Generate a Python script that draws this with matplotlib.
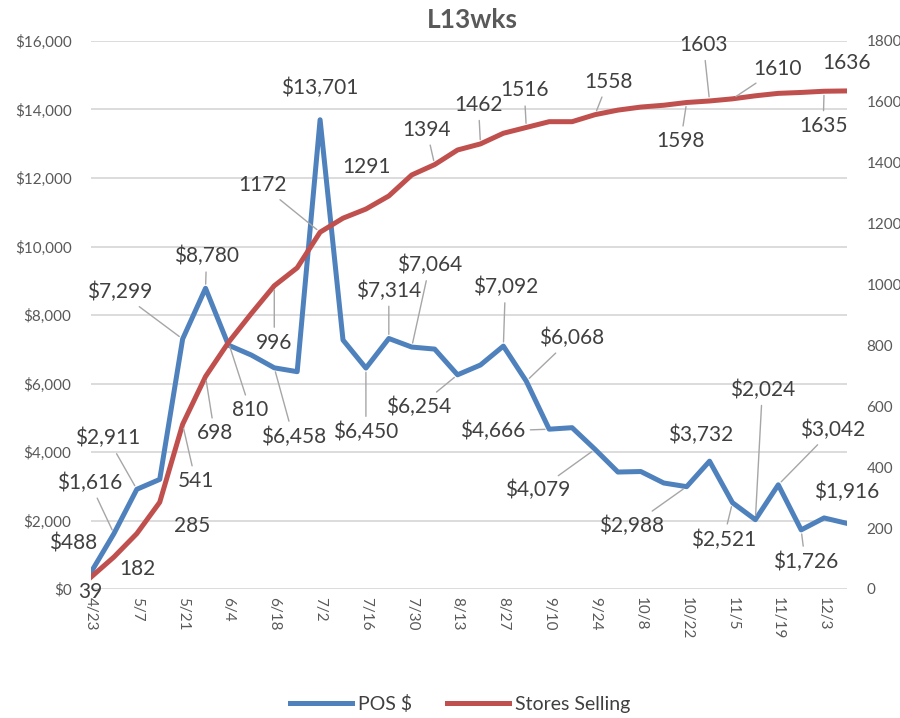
import matplotlib
matplotlib.use("Agg")
import matplotlib.pyplot as plt
from matplotlib.ticker import FuncFormatter, MultipleLocator

plt.rcParams['font.family'] = ['Lato', 'DejaVu Sans']

# weekly categories
weeks = ['4/23', '4/30', '5/7', '5/14', '5/21', '5/28', '6/4', '6/11', '6/18', '6/25',
         '7/2', '7/9', '7/16', '7/23', '7/30', '8/6', '8/13', '8/20', '8/27', '9/3',
         '9/10', '9/17', '9/24', '10/1', '10/8', '10/15', '10/22', '10/29', '11/5', '11/12',
         '11/19', '11/26', '12/3', '12/10']

pos_sales = [488, 1616, 2911, 3200, 7299, 8780, 7120, 6830, 6458, 6345,
             13701, 7270, 6450, 7314, 7064, 7005, 6254, 6540, 7092, 6068,
             4666, 4710, 4079, 3415, 3430, 3095, 2988, 3732, 2521, 2024,
             3042, 1726, 2075, 1916]

stores = [39, 105, 182, 285, 541, 698, 810, 905, 996, 1055,
          1172, 1218, 1248, 1291, 1360, 1394, 1442, 1462, 1497, 1516,
          1535, 1535, 1558, 1573, 1583, 1589, 1598, 1603, 1610, 1620,
          1628, 1631, 1635, 1636]

# label index -> (dx, dy) offset in pixels, and whether a leader line is drawn
pos_labels = {0: (-18, 29, False), 1: (-24, 51, True), 2: (-29, 51, True), 4: (-63, 47, True),
              5: (1, 32, True), 8: (19, -69, True), 10: (0, 32, False), 12: (0, -64, True),
              13: (0, 48, True), 14: (18, 82, True), 16: (-39, -32, True), 18: (2, 59, True),
              19: (45, 43, True), 20: (-57, -2, True), 22: (-57, -41, True), 26: (-55, -39, True),
              27: (-9, 26, False), 28: (-9, -37, True), 29: (7, 130, True), 30: (54, 55, True),
              31: (4, -32, True), 33: (0, 31, False)}

store_labels = {0: (-1, -15, False), 2: (1, -35, False), 3: (32, -24, False), 4: (13, -57, True),
                5: (9, -57, True), 6: (22, -68, True), 8: (0, -57, True), 10: (-58, 47, True),
                13: (-22, 29, False), 15: (-8, 35, True), 17: (-2, 39, True), 19: (-2, 37, True),
                22: (13, 33, True), 26: (-6, -39, True), 27: (-6, 56, True), 28: (45, 30, True),
                32: (-1, -35, True), 33: (0, 28, False)}

blue = '#4F81BD'
red = '#C0504D'
txt = '#404040'
axc = '#595959'
grid = '#D9D9D9'
lead = '#A6A6A6'

x = list(range(len(weeks)))

fig = plt.figure(figsize=(9, 7.18), dpi=100)
ax = fig.add_axes([91/900, 1 - 589/718, (847 - 91)/900, (589 - 41)/718])
ax2 = ax.twinx()

l1, = ax.plot(x, pos_sales, color=blue, lw=3.6, solid_joinstyle='round', label='POS $')
l2, = ax2.plot(x, stores, color=red, lw=3.6, solid_joinstyle='round', label='Stores Selling')

ax.set_xlim(0, len(weeks) - 1)
ax.set_ylim(0, 16000)
ax2.set_ylim(0, 1800)
ax.yaxis.set_major_locator(MultipleLocator(2000))
ax2.yaxis.set_major_locator(MultipleLocator(200))
ax.yaxis.set_major_formatter(FuncFormatter(lambda v, p: f'${v:,.0f}'))
ax.grid(axis='y', color=grid, lw=1.3)
ax.set_axisbelow(True)

ax.set_xticks(x[::2])
ax.set_xticklabels(weeks[::2], rotation=270, color=axc, fontsize=11)
for a in (ax, ax2):
    for s in a.spines.values():
        s.set_visible(False)
    a.tick_params(length=0, colors=axc, labelsize=11)
ax.tick_params(axis='y', pad=14)
ax2.tick_params(axis='y', pad=14)
ax.tick_params(axis='x', pad=6)

def add_labels(a, vals, labels, fmt):
    for i, (dx, dy, leader) in labels.items():
        ap = dict(arrowstyle='-', color=lead, lw=1, shrinkA=2, shrinkB=3) if leader else None
        a.annotate(fmt(vals[i]), (x[i], vals[i]), xytext=(dx, dy), textcoords='offset pixels',
                   ha='center', va='center', fontsize=15, color=txt, arrowprops=ap,
                   annotation_clip=False)

add_labels(ax, pos_sales, pos_labels, lambda v: f'${v:,}')
add_labels(ax2, stores, store_labels, lambda v: f'{v}')

fig.text(472/900, 1 - 20/718, 'L13wks', ha='center', va='center',
         fontsize=19, fontweight='bold', color=axc)

fig.legend(handles=[l1, l2], loc='center', bbox_to_anchor=(460/900, 1 - 704/718), ncol=2,
           frameon=False, fontsize=14, handlelength=3.2, columnspacing=1.8,
           handletextpad=0.3, labelcolor=txt)

fig.savefig('out.png', dpi=100)
